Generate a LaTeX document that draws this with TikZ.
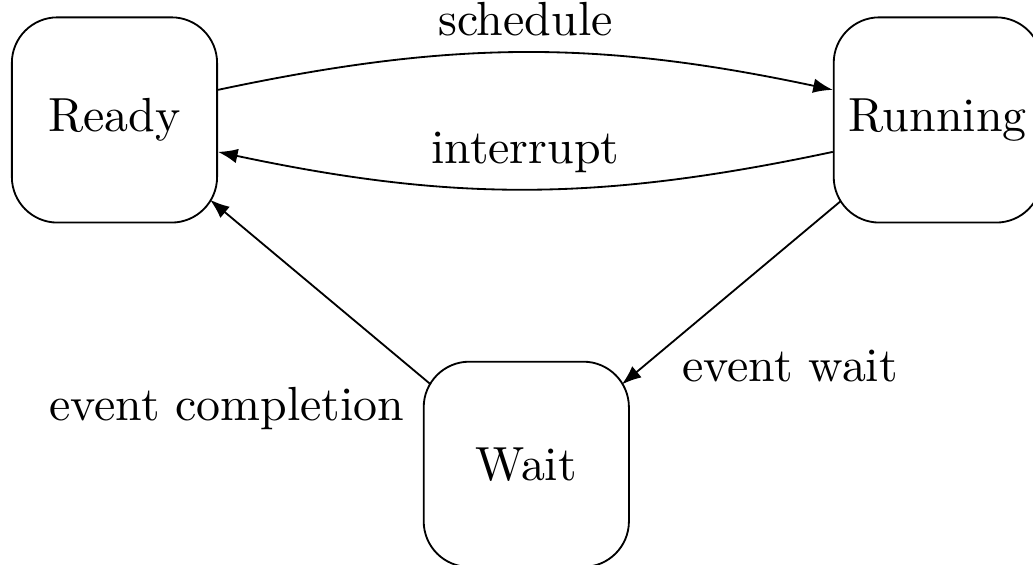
\documentclass[tikz,border=0pt]{standalone}
\usetikzlibrary{arrows.meta, positioning}

\begin{document}
\begin{tikzpicture}[
    every node/.style={font=\fontsize{10.5pt}{12.6pt}\selectfont},
    state/.style={draw, rectangle, rounded corners=10pt, minimum size=45pt, align=center},
    arrow/.style={-{Latex[length=4.3pt, width=3.2pt]}},
    reach/.style={shorten <=-2.3pt, shorten >=-2.3pt}
]

\useasboundingbox (-25.1pt,26.3pt) rectangle (201.4pt,-97.4pt);

\node[state] (ready) {Ready};
\node[state] (running) [right=134.8pt of ready] {Running};
\node[state] (wait) [below right=30.1pt and 44.9pt of ready] {Wait};

\draw[arrow] ([yshift=6.6pt]ready.east) to[bend left=12] node[above] {schedule} ([yshift=6.6pt]running.west);
\draw[arrow] ([yshift=-7pt]running.west) to[bend left=12] node[above] {interrupt} ([yshift=-7pt]ready.east);
\draw[arrow, reach] (running) -- node[pos=0.78, below right, xshift=-1.8pt, yshift=1.5pt] {event wait} (wait);
\draw[arrow, reach] (wait) -- node[pos=0.04, below left, xshift=1.3pt] {event completion} (ready);

\end{tikzpicture}
\end{document}
